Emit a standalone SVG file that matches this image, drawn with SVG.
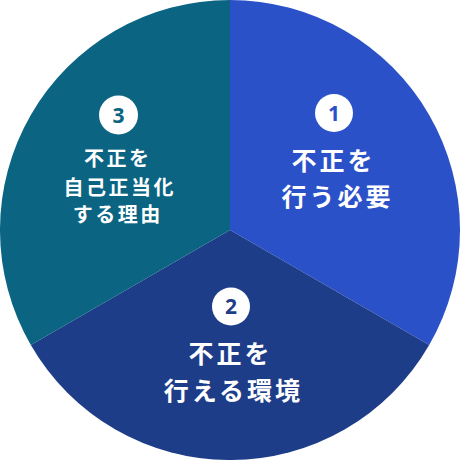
<svg xmlns="http://www.w3.org/2000/svg" width="461" height="460" viewBox="0 0 461 460">
<style>
.t{font-family:"Noto Sans CJK JP","Noto Sans",sans-serif;font-weight:700;fill:#fff;text-anchor:middle}
.big{font-size:25px;letter-spacing:3px}
.sm{font-size:20px;letter-spacing:2.5px}
.n{font-family:"Noto Sans","Liberation Sans",sans-serif;font-weight:700;font-size:21px;text-anchor:middle}
</style>
<g id="sector1">
<path d="M230,230 L230,0 A230,230 0 0 1 429.19,345 Z" fill="#2a51c8"/>
<circle cx="334" cy="113" r="19" fill="#fff"/>
<text class="n" x="334" y="120.5" fill="#2a51c8">1</text>
<text class="t big" x="333.5" y="170">不正を</text>
<text class="t big" x="337.5" y="206">行う必要</text>
</g>
<g id="sector2">
<path d="M230,230 L429.19,345 A230,230 0 0 1 30.81,345 Z" fill="#1e3d89"/>
<circle cx="231" cy="306.5" r="19" fill="#fff"/>
<text class="n" x="231" y="314" fill="#1e3d89">2</text>
<text class="t big" x="230.5" y="363">不正を</text>
<text class="t big" x="233.5" y="400">行える環境</text>
</g>
<g id="sector3">
<path d="M230,230 L30.81,345 A230,230 0 0 1 230,0 Z" fill="#0a6482"/>
<circle cx="118.5" cy="115" r="19.5" fill="#fff"/>
<text class="n" x="118.5" y="122.5" fill="#0a6482">3</text>
<text class="t sm" x="117.75" y="166">不正を</text>
<text class="t sm" x="119.75" y="194.5">自己正当化</text>
<text class="t sm" x="117.75" y="222">する理由</text>
</g>
<g id="connectors"/>
</svg>
